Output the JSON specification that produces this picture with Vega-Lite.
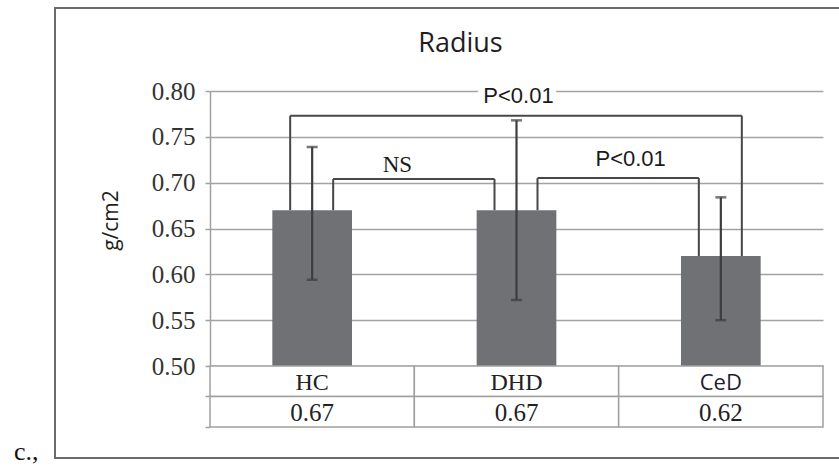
{
  "$schema": "https://vega.github.io/schema/vega-lite/v6.json",
  "width": 785,
  "height": 450,
  "autosize": {"type": "none"},
  "padding": {"left": 55, "top": 8, "right": -1, "bottom": 8},
  "background": "white",
  "config": {"view": {"stroke": "#6b6b6b", "strokeWidth": 2, "fill": "white"}},
  "title": {
    "text": "Radius",
    "orient": "top",
    "anchor": "middle",
    "frame": "group",
    "offset": -71,
    "baseline": "alphabetic",
    "dx": 13,
    "font": "Open Sans",
    "fontSize": 27,
    "fontWeight": "normal",
    "color": "#1e1e1e"
  },
  "datasets": {
    "groups": [
      {"group": "HC", "mean": 0.67, "lo": 0.594, "hi": 0.739},
      {"group": "DHD", "mean": 0.67, "lo": 0.572, "hi": 0.768},
      {"group": "CeD", "mean": 0.62, "lo": 0.55, "hi": 0.684}
    ],
    "brackets": [
      {"from": "HC", "to": "CeD", "level": 0.773, "label": "P<0.01", "span": "outer"},
      {"from": "HC", "to": "DHD", "level": 0.704, "label": "NS", "span": "inner"},
      {"from": "DHD", "to": "CeD", "level": 0.705, "label": "P<0.01", "span": "inner"}
    ]
  },
  "resolve": {"scale": {"y": "independent"}, "axis": {"y": "independent"}},
  "layer": [
    {
      "layer": [
        {
          "data": {"name": "groups"},
          "mark": {"type": "bar", "color": "#707174", "width": {"band": 0.39}},
          "encoding": {
            "x": {
              "field": "group",
              "type": "nominal",
              "axis": null,
              "scale": {"domain": ["HC", "DHD", "CeD"], "range": [155, 768], "paddingInner": 0, "paddingOuter": 0}
            },
            "y": {
              "field": "mean",
              "type": "quantitative",
              "title": "g/cm2",
              "scale": {"domain": [0.5, 0.8], "range": [358, 83], "zero": false, "nice": false},
              "axis": {
                "orient": "left",
                "offset": -155,
                "values": [0.5, 0.55, 0.6, 0.65, 0.7, 0.75, 0.8],
                "format": ".2f",
                "labelFlush": false,
                "labelOverlap": false,
                "labelFont": "Liberation Serif",
                "labelFontSize": 25,
                "labelColor": "#333333",
                "labelPadding": 10,
                "domain": true,
                "domainColor": "#a0a0a0",
                "domainWidth": 1.5,
                "ticks": true,
                "tickSize": 5,
                "tickColor": "#a0a0a0",
                "tickWidth": 1.5,
                "grid": true,
                "gridColor": "#a3a3a3",
                "gridWidth": 1.5,
                "titleFont": "Open Sans",
                "titleFontSize": 21,
                "titleFontWeight": "normal",
                "titleColor": "#1e1e1e",
                "titlePadding": 30,
                "titleY": 212
              }
            },
            "y2": {"datum": 0.5}
          }
        },
        {
          "data": {"name": "groups"},
          "mark": {"type": "rule", "color": "#3d3d3d", "strokeWidth": 2.2},
          "encoding": {
            "x": {"field": "group", "type": "nominal", "axis": null},
            "y": {"field": "lo", "type": "quantitative"},
            "y2": {"field": "hi"}
          }
        },
        {
          "data": {"name": "groups"},
          "mark": {"type": "tick", "orient": "horizontal", "color": "#3d3d3d", "size": 11, "thickness": 2.5},
          "encoding": {
            "x": {"field": "group", "type": "nominal", "axis": null},
            "y": {"field": "lo", "type": "quantitative"}
          }
        },
        {
          "data": {"name": "groups"},
          "mark": {"type": "tick", "orient": "horizontal", "color": "#3d3d3d", "size": 11, "thickness": 2.5},
          "encoding": {
            "x": {"field": "group", "type": "nominal", "axis": null},
            "y": {"field": "hi", "type": "quantitative"}
          }
        },
        {
          "data": {"name": "brackets"},
          "transform": [{"filter": "datum.span === 'outer'"}],
          "mark": {"type": "text", "font": "Liberation Sans", "fontSize": 22, "fill": "white", "stroke": "white", "strokeWidth": 14, "baseline": "alphabetic", "dx": 2, "dy": -13},
          "encoding": {
            "x": {"field": "from", "type": "nominal", "bandPosition": 1.5, "axis": null},
            "y": {"field": "level", "type": "quantitative"},
            "text": {"field": "label"}
          }
        },
        {
          "data": {"name": "brackets"},
          "transform": [
            {"lookup": "from", "from": {"data": {"name": "groups"}, "key": "group", "fields": ["mean"]}, "as": ["fromTop"]},
            {"filter": "datum.span === 'outer'"}
          ],
          "mark": {"type": "rule", "color": "#474747", "strokeWidth": 2, "xOffset": -22},
          "encoding": {
            "x": {"field": "from", "type": "nominal", "axis": null},
            "y": {"field": "level", "type": "quantitative"},
            "y2": {"field": "fromTop"}
          }
        },
        {
          "data": {"name": "brackets"},
          "transform": [
            {"lookup": "to", "from": {"data": {"name": "groups"}, "key": "group", "fields": ["mean"]}, "as": ["toTop"]},
            {"filter": "datum.span === 'outer'"}
          ],
          "mark": {"type": "rule", "color": "#474747", "strokeWidth": 2, "xOffset": 21},
          "encoding": {
            "x": {"field": "to", "type": "nominal", "axis": null},
            "y": {"field": "level", "type": "quantitative"},
            "y2": {"field": "toTop"}
          }
        },
        {
          "data": {"name": "brackets"},
          "transform": [{"filter": "datum.span === 'outer'"}],
          "mark": {"type": "rule", "color": "#474747", "strokeWidth": 2, "xOffset": -22, "x2Offset": 21},
          "encoding": {
            "x": {"field": "from", "type": "nominal", "axis": null},
            "x2": {"field": "to"},
            "y": {"field": "level", "type": "quantitative"}
          }
        },
        {
          "data": {"name": "brackets"},
          "transform": [
            {"lookup": "from", "from": {"data": {"name": "groups"}, "key": "group", "fields": ["mean"]}, "as": ["fromTop"]},
            {"filter": "datum.span === 'inner'"}
          ],
          "mark": {"type": "rule", "color": "#474747", "strokeWidth": 2, "xOffset": 21},
          "encoding": {
            "x": {"field": "from", "type": "nominal", "axis": null},
            "y": {"field": "level", "type": "quantitative"},
            "y2": {"field": "fromTop"}
          }
        },
        {
          "data": {"name": "brackets"},
          "transform": [
            {"lookup": "to", "from": {"data": {"name": "groups"}, "key": "group", "fields": ["mean"]}, "as": ["toTop"]},
            {"filter": "datum.span === 'inner'"}
          ],
          "mark": {"type": "rule", "color": "#474747", "strokeWidth": 2, "xOffset": -22},
          "encoding": {
            "x": {"field": "to", "type": "nominal", "axis": null},
            "y": {"field": "level", "type": "quantitative"},
            "y2": {"field": "toTop"}
          }
        },
        {
          "data": {"name": "brackets"},
          "transform": [{"filter": "datum.span === 'inner'"}],
          "mark": {"type": "rule", "color": "#474747", "strokeWidth": 2, "xOffset": 21, "x2Offset": -22},
          "encoding": {
            "x": {"field": "from", "type": "nominal", "axis": null},
            "x2": {"field": "to"},
            "y": {"field": "level", "type": "quantitative"}
          }
        },
        {
          "data": {"name": "brackets"},
          "transform": [{"filter": "datum.span === 'outer'"}],
          "mark": {"type": "text", "font": "Liberation Sans", "fontSize": 22, "color": "#1a1a1a", "baseline": "alphabetic", "dx": 2, "dy": -13},
          "encoding": {
            "x": {"field": "from", "type": "nominal", "bandPosition": 1.5, "axis": null},
            "y": {"field": "level", "type": "quantitative"},
            "text": {"field": "label"}
          }
        },
        {
          "data": {"name": "brackets"},
          "transform": [{"filter": "datum.span === 'inner' && datum.label === 'NS'"}],
          "mark": {"type": "text", "font": "Liberation Serif", "fontSize": 23, "color": "#1a1a1a", "baseline": "alphabetic", "dx": -17, "dy": -7},
          "encoding": {
            "x": {"field": "from", "type": "nominal", "bandPosition": 1, "axis": null},
            "y": {"field": "level", "type": "quantitative"},
            "text": {"field": "label"}
          }
        },
        {
          "data": {"name": "brackets"},
          "transform": [{"filter": "datum.span === 'inner' && datum.label !== 'NS'"}],
          "mark": {"type": "text", "font": "Liberation Sans", "fontSize": 22, "color": "#1a1a1a", "baseline": "alphabetic", "dx": 12, "dy": -12},
          "encoding": {
            "x": {"field": "from", "type": "nominal", "bandPosition": 1, "axis": null},
            "y": {"field": "level", "type": "quantitative"},
            "text": {"field": "label"}
          }
        }
      ]
    },
    {
      "layer": [
        {
          "data": {"name": "groups"},
          "mark": {"type": "rect", "fill": "white", "stroke": "#a0a0a0", "strokeWidth": 1.5},
          "encoding": {
            "x": {"field": "group", "type": "nominal", "axis": null},
            "y": {
              "datum": "name",
              "type": "nominal",
              "scale": {"domain": ["name", "value"], "range": [358, 419], "paddingInner": 0, "paddingOuter": 0},
              "axis": {
                "orient": "left",
                "offset": -155,
                "domain": false,
                "labels": false,
                "grid": false,
                "ticks": true,
                "tickSize": 5,
                "tickColor": "#a0a0a0",
                "tickWidth": 1.5,
                "bandPosition": 1,
                "title": "c.,",
                "titleAngle": 0,
                "titleAlign": "right",
                "titleBaseline": "alphabetic",
                "titleX": -172,
                "titleY": 451,
                "titleFont": "Liberation Serif",
                "titleFontSize": 26,
                "titleFontWeight": "normal",
                "titleColor": "#111111"
              }
            }
          }
        },
        {
          "data": {"name": "groups"},
          "mark": {"type": "rect", "fill": "white", "stroke": "#a0a0a0", "strokeWidth": 1.5},
          "encoding": {
            "x": {"field": "group", "type": "nominal", "axis": null},
            "y": {"datum": "value", "type": "nominal"}
          }
        },
        {
          "data": {"name": "groups"},
          "transform": [{"filter": "datum.group !== 'CeD'"}],
          "mark": {"type": "text", "font": "Liberation Serif", "fontSize": 24, "color": "#222222", "baseline": "middle", "dy": 2},
          "encoding": {
            "x": {"field": "group", "type": "nominal", "axis": null},
            "y": {"datum": "name", "type": "nominal"},
            "text": {"field": "group"}
          }
        },
        {
          "data": {"name": "groups"},
          "transform": [{"filter": "datum.group === 'CeD'"}],
          "mark": {"type": "text", "font": "Open Sans", "fontSize": 22, "color": "#1e1e2e", "baseline": "middle", "dy": 2},
          "encoding": {
            "x": {"field": "group", "type": "nominal", "axis": null},
            "y": {"datum": "name", "type": "nominal"},
            "text": {"field": "group"}
          }
        },
        {
          "data": {"name": "groups"},
          "mark": {"type": "text", "font": "Liberation Serif", "fontSize": 25, "color": "#222222", "baseline": "middle", "dy": 1},
          "encoding": {
            "x": {"field": "group", "type": "nominal", "axis": null},
            "y": {"datum": "value", "type": "nominal"},
            "text": {"field": "mean", "type": "quantitative", "format": ".2f"}
          }
        }
      ]
    }
  ]
}
